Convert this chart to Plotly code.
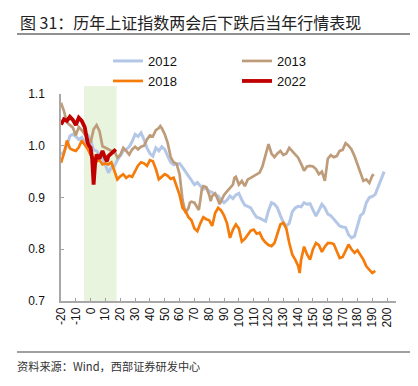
import plotly.graph_objects as go

# ---- data (trading days relative to the NPC sessions, index normalised) ----
t2012 = [-20,-18,-16,-14,-12,-10,-8,-6,-4,-2,0,2,4,6,8,10,12,14,16,18,20,22,24,26,28,30,32,34,36,38,40,42,44,46,48,50,
         52,54,56,58,60,62,64,66,68,70,72,74,76,78,80,82,84,86,88,90,92,94,96,98,100,102,104,106,108,110,112,114,116,118,
         120,122,124,126,128,130,132,134,136,138,140,142,144,146,148,150,152,154,156,158,160,162,164,166,168,170,172,174,
         176,178,180,182,184,186,188,190,192,194,196,198]
v2012 = [0.983,0.988,1.000,1.019,1.022,1.018,1.012,1.016,1.006,1.022,1.010,0.992,0.990,0.982,0.976,0.962,0.948,0.958,0.961,0.972,
         0.982,0.990,0.993,0.998,1.008,1.022,1.018,1.025,1.012,0.996,0.985,0.980,0.996,0.990,0.998,0.993,0.980,0.968,0.963,0.964,
         0.966,0.958,0.950,0.940,0.932,0.925,0.929,0.922,0.916,0.918,0.912,0.910,0.905,0.903,0.895,0.890,0.895,0.903,0.898,0.905,
         0.908,0.895,0.885,0.883,0.880,0.870,0.862,0.860,0.857,0.854,0.875,0.890,0.887,0.880,0.865,0.852,0.845,0.850,0.872,0.880,
         0.883,0.882,0.890,0.887,0.888,0.875,0.864,0.875,0.887,0.880,0.868,0.865,0.858,0.852,0.845,0.843,0.842,0.828,0.822,0.825,
         0.845,0.865,0.870,0.890,0.900,0.902,0.906,0.922,0.935,0.950]

t2013 = [-20,-18,-16,-14,-12,-10,-8,-6,-4,-2,0,2,4,6,8,10,12,14,16,18,20,22,24,26,28,30,32,34,36,38,40,42,44,46,47,48,50,
         52,54,56,58,60,61,62,64,66,67,68,70,72,73,74,75,76,78,80,81,82,84,86,87,88,90,92,94,96,97,98,100,102,104,106,108,
         110,112,114,116,118,120,122,124,126,128,130,132,134,136,138,140,142,144,146,148,150,152,154,156,158,160,162,164,
         166,168,170,172,174,176,178,180,182,184,186,188,190,191]
v2013 = [1.083,1.067,1.045,1.040,1.035,1.020,1.036,1.030,1.022,1.016,1.006,1.032,1.040,1.028,0.999,0.996,0.993,0.990,0.990,0.977,
         0.982,0.996,0.990,0.983,0.993,0.998,0.993,0.998,1.000,1.012,1.020,1.018,1.030,1.034,1.038,1.034,1.022,1.005,0.978,0.968,
         0.965,0.945,0.920,0.895,0.870,0.880,0.890,0.892,0.890,0.880,0.876,0.895,0.916,0.922,0.920,0.905,0.893,0.903,0.908,0.895,
         0.887,0.893,0.905,0.912,0.918,0.925,0.938,0.940,0.925,0.932,0.922,0.935,0.938,0.941,0.945,0.948,0.961,0.980,1.003,0.985,
         0.978,0.985,0.990,0.982,0.985,0.996,0.990,0.982,0.977,0.965,0.952,0.960,0.961,0.960,0.955,0.945,0.950,0.932,0.975,0.982,
         0.978,0.980,0.990,0.992,1.005,1.000,0.993,0.980,0.965,0.948,0.932,0.935,0.928,0.942,0.945]

t2018 = [-20,-18,-16,-14,-12,-10,-8,-6,-4,-2,0,2,4,6,8,10,12,14,16,18,20,22,24,26,28,30,32,34,36,38,40,42,44,46,48,50,
         52,54,56,58,60,62,64,66,68,70,72,74,76,78,80,82,84,86,88,90,92,94,96,98,100,102,104,106,108,110,112,114,116,118,
         120,122,124,126,128,130,132,134,136,138,140,141,142,144,146,148,150,152,154,156,158,160,162,164,166,168,170,172,
         174,176,178,180,182,184,186,188,190,192]
v2018 = [0.967,0.985,1.010,0.995,0.992,0.990,0.997,1.010,1.002,0.994,0.982,0.975,0.970,0.972,0.964,0.966,0.964,0.968,0.952,0.935,
         0.941,0.945,0.938,0.942,0.940,0.950,0.962,0.968,0.966,0.961,0.972,0.970,0.955,0.935,0.940,0.945,0.942,0.936,0.938,0.920,
         0.905,0.880,0.873,0.862,0.856,0.840,0.835,0.850,0.862,0.858,0.856,0.845,0.870,0.880,0.875,0.865,0.850,0.822,0.838,0.848,
         0.840,0.815,0.820,0.828,0.836,0.838,0.830,0.832,0.820,0.813,0.808,0.806,0.812,0.830,0.848,0.851,0.840,0.812,0.790,0.780,
         0.768,0.754,0.780,0.805,0.790,0.780,0.800,0.812,0.808,0.795,0.805,0.812,0.812,0.810,0.795,0.783,0.785,0.798,0.809,0.800,
         0.793,0.798,0.790,0.780,0.767,0.760,0.754,0.758]

t2022 = [-20,-18,-16,-14,-12,-10,-8,-6,-4,-2,-1,0,1,2,3,4,6,8,10,11,12,14,16,17]
v2022 = [1.041,1.051,1.048,1.056,1.050,1.040,1.054,1.048,1.036,1.005,1.000,0.996,0.975,0.925,0.965,0.983,0.975,0.990,0.975,0.970,
         0.980,0.985,0.990,0.993]

shade_x = [-4.5, 17.5]
x_ticks = list(range(-20, 201, 10))
y_ticks = [0.7, 0.8, 0.9, 1.0, 1.1]

title_text = "图 31：历年上证指数两会后下跌后当年行情表现"
source_text = "资料来源：Wind，西部证券研发中心"

W, H = 418, 386
L, R, T, B = 61, 22, 94, 85
PW, PH = W - L - R, H - T - B

def px_x(px):
    return (px - L) / PW

def px_y(py):
    return (H - B - py) / PH

fig = go.Figure()
# (name, x, y, colour, width, legend id, legend left px, legend row centre px)
series = [
    ("2012", t2012, v2012, "#B4C7E7", 3.0, "legend", 108, 61),
    ("2013", t2013, v2013, "#BE9C7A", 2.7, "legend2", 237, 61),
    ("2018", t2018, v2018, "#F57C0A", 2.7, "legend3", 108, 81),
    ("2022", t2022, v2022, "#C00000", 3.8, "legend4", 237, 81),
]
legend_layouts = {}
for name, xs, ys, col, w, lg, lx, ly in series:
    fig.add_trace(go.Scatter(x=xs, y=ys, name=name, mode="lines",
                             line=dict(color=col, width=w), legend=lg))
    legend_layouts[lg] = dict(orientation="h", xref="paper", yref="paper", xanchor="left", yanchor="middle",
                              x=px_x(lx), y=px_y(ly), bgcolor="rgba(0,0,0,0)", borderwidth=0,
                              font=dict(family="Liberation Sans", size=13, color="#111111"))

fig.add_shape(type="rect", xref="x", yref="paper", x0=shade_x[0], x1=shade_x[1],
              y0=0, y1=px_y(86), fillcolor="#E9F4DE", line=dict(width=0), layer="below")
fig.add_shape(type="line", xref="paper", yref="paper", x0=px_x(17), x1=px_x(410),
              y0=px_y(34), y1=px_y(34), line=dict(color="#222222", width=1))
fig.add_shape(type="line", xref="paper", yref="paper", x0=px_x(17), x1=px_x(410),
              y0=px_y(352), y1=px_y(352), line=dict(color="#808080", width=1.5))

fig.add_annotation(text=title_text, xref="paper", yref="paper", x=px_x(190), y=px_y(22),
                   xanchor="center", yanchor="middle", showarrow=False,
                   font=dict(family="Noto Sans CJK SC", size=16, color="#222222"))
fig.add_annotation(text=source_text, xref="paper", yref="paper", x=px_x(108.5), y=px_y(366),
                   xanchor="center", yanchor="middle", showarrow=False,
                   font=dict(family="Noto Sans CJK SC", size=11.2, color="#333333"))

fig.update_layout(
    width=W, height=H,
    margin=dict(l=L, r=R, t=T, b=B, autoexpand=False),
    paper_bgcolor="white", plot_bgcolor="white",
    showlegend=True,
    xaxis=dict(range=[-20, 206], tickmode="array", tickvals=x_ticks, ticktext=[str(v) for v in x_ticks],
               tickangle=-90, ticks="inside", ticklen=3, tickcolor="#A0A0A0",
               showline=True, linecolor="#A8A8A8", linewidth=1.5, showgrid=False, zeroline=False,
               automargin=False,
               tickfont=dict(family="Liberation Sans", size=12, color="#111111")),
    yaxis=dict(range=[0.7, 1.1], tickmode="array", tickvals=y_ticks, ticktext=[f"{v:.1f}" for v in y_ticks],
               ticks="inside", ticklen=3, tickcolor="#A0A0A0", ticklabelstandoff=12,
               showline=True, linecolor="#A8A8A8", linewidth=1.5, showgrid=False, zeroline=False,
               automargin=False,
               tickfont=dict(family="Liberation Sans", size=12, color="#111111")),
)
fig.update_layout(**legend_layouts)

fig.write_html("out.html", config={"displayModeBar": False},
               post_script="document.body.style.margin='0';")
